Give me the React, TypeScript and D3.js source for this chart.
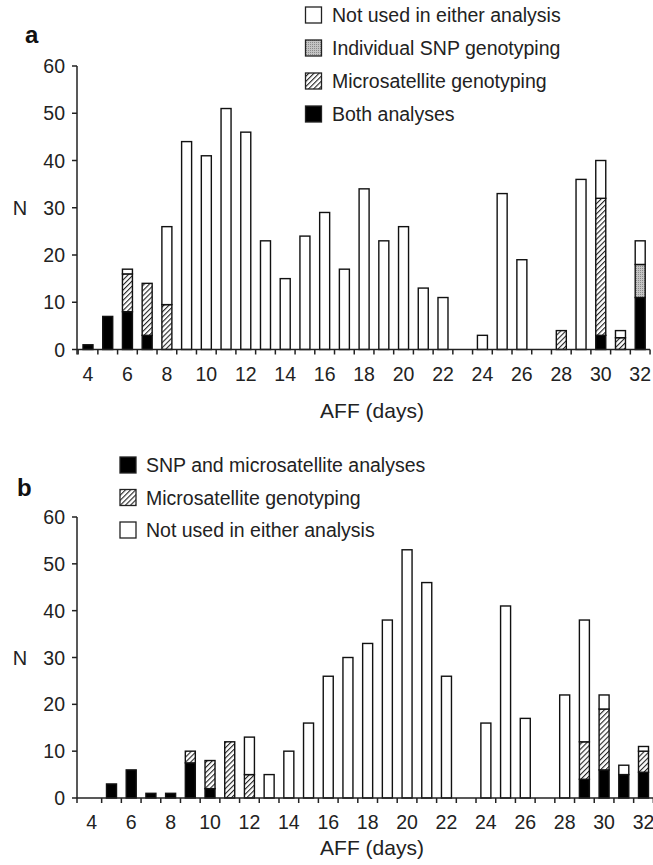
import React from "react";
import * as d3 from "d3";

const days = d3.range(4, 33);
const evenDays = [4, 6, 8, 10, 12, 14, 16, 18, 20, 22, 24, 26, 28, 30, 32];
const yTicks = [0, 10, 20, 30, 40, 50, 60];

// Panel a (index = day - 4)
const aBoth = [1, 7, 8, 3, 0, 0, 0, 0, 0, 0, 0, 0, 0, 0, 0, 0, 0, 0, 0, 0, 0, 0, 0, 0, 0, 0, 3, 0, 11];
const aSnp = [0, 0, 0, 0, 0, 0, 0, 0, 0, 0, 0, 0, 0, 0, 0, 0, 0, 0, 0, 0, 0, 0, 0, 0, 0, 0, 0, 0, 7];
const aMicro = [0, 0, 8, 11, 9.5, 0, 0, 0, 0, 0, 0, 0, 0, 0, 0, 0, 0, 0, 0, 0, 0, 0, 0, 0, 4, 0, 29, 2.5, 0];
const aNot = [0, 0, 1, 0, 16.5, 44, 41, 51, 46, 23, 15, 24, 29, 17, 34, 23, 26, 13, 11, 0, 3, 33, 19, 0, 0, 36, 8, 1.5, 5];

// Panel b
const bBoth = [0, 3, 6, 1, 1, 7.5, 2, 0, 0, 0, 0, 0, 0, 0, 0, 0, 0, 0, 0, 0, 0, 0, 0, 0, 0, 4, 6, 5, 5.5];
const bMicro = [0, 0, 0, 0, 0, 2.5, 6, 12, 5, 0, 0, 0, 0, 0, 0, 0, 0, 0, 0, 0, 0, 0, 0, 0, 0, 8, 13, 0, 4.5];
const bNot = [0, 0, 0, 0, 0, 0, 0, 0, 8, 5, 10, 16, 26, 30, 33, 38, 53, 46, 26, 0, 16, 41, 17, 0, 22, 26, 3, 2, 1];

const legendA = ["Not used in either analysis", "Individual SNP genotyping", "Microsatellite genotyping", "Both analyses"];
const legendAFill = ["#fff", "url(#stip)", "url(#hatch)", "#000"];
const legendB = ["SNP and microsatellite analyses", "Microsatellite genotyping", "Not used in either analysis"];
const legendBFill = ["#000", "url(#hatch)", "#fff"];

const FONT = "'Liberation Sans', Arial, Helvetica, sans-serif";

type Layer = { values: number[]; fill: string };

function Panel(props: {
  layers: Layer[];
  x0: number; x1: number; y0: number; y1: number;
  axisStart: number; axisEnd: number; firstTick: number;
  letter: string; letterX: number; letterY: number; affY: number;
}) {
  const { layers, x0, x1, y0, y1, axisStart, axisEnd, firstTick } = props;
  const x = d3.scaleLinear().domain([4, 32]).range([x0, x1]);
  const y = d3.scaleLinear().domain([0, 60]).range([y0, y1]);
  const bw = 10;
  const stackData = days.map((d, i) => {
    const o: any = { day: d };
    layers.forEach((l, k) => (o["k" + k] = l.values[i]));
    return o;
  });
  const keys = layers.map((_, k) => "k" + k);
  const series = d3.stack().keys(keys)(stackData as any);
  const boundaries = d3.range(firstTick, 33.5, 1);
  return (
    <g fontFamily={FONT}>
      {series.map((s, k) => (
        <g key={k}>
          {s.map((p, i) =>
            p[1] - p[0] > 0 ? (
              <rect
                key={i}
                x={x(days[i]) - bw / 2}
                width={bw}
                y={y(p[1])}
                height={y(p[0]) - y(p[1])}
                fill={layers[k].fill}
                stroke="#111"
                strokeWidth={1.4}
              />
            ) : null
          )}
        </g>
      ))}
      {/* y axis */}
      <line x1={axisStart} x2={axisStart} y1={y(60)} y2={y(0)} stroke="#222" strokeWidth={1.5} />
      {yTicks.map((t) => (
        <g key={t}>
          <line x1={axisStart - 5} x2={axisStart} y1={y(t)} y2={y(t)} stroke="#222" strokeWidth={1.5} />
          <text x={axisStart - 12} y={y(t)} dy="0.36em" textAnchor="end" fontSize={19.5} fill="#222">
            {t}
          </text>
        </g>
      ))}
      {/* x axis */}
      <line x1={axisStart} x2={axisEnd} y1={y(0)} y2={y(0)} stroke="#222" strokeWidth={1.5} />
      <line x1={axisStart} x2={axisStart} y1={y(0)} y2={y(0) + 5} stroke="#222" strokeWidth={1.5} />
      {boundaries.map((b) => (
        <line key={b} x1={x(b)} x2={x(b)} y1={y(0)} y2={y(0) + 5} stroke="#222" strokeWidth={1.5} />
      ))}
      {evenDays.map((d) => (
        <text key={d} x={x(d)} y={y(0) + 24} dy="0.36em" textAnchor="middle" fontSize={19.5} fill="#222">
          {d}
        </text>
      ))}
      <text x={20} y={y(30)} dy="0.36em" textAnchor="middle" fontSize={20} fill="#222">N</text>
      <text x={372} y={props.affY} dy="0.36em" textAnchor="middle" fontSize={21} fill="#222">AFF (days)</text>
      <text x={props.letterX} y={props.letterY} fontSize={24} fontWeight="bold" fill="#111">{props.letter}</text>
    </g>
  );
}

export default function App() {
  return (
    <svg width={653} height={865} style={{ position: "absolute", left: 0, top: 0, background: "#fff" }}>
      <defs>
        <pattern id="hatch" width={3.6} height={3.6} patternUnits="userSpaceOnUse" patternTransform="rotate(45)">
          <rect width={3.6} height={3.6} fill="#fff" />
          <line x1={0} y1={0} x2={0} y2={3.6} stroke="#222" strokeWidth={2.2} />
        </pattern>
        <pattern id="stip" width={2} height={2} patternUnits="userSpaceOnUse">
          <rect width={2} height={2} fill="#c4c4c4" />
          <rect width={1} height={1} fill="#8a8a8a" />
        </pattern>
      </defs>
      <Panel
        layers={[
          { values: aBoth, fill: "#000" },
          { values: aSnp, fill: "url(#stip)" },
          { values: aMicro, fill: "url(#hatch)" },
          { values: aNot, fill: "#fff" },
        ]}
        x0={88} x1={640.2} y0={349.5} y1={66}
        axisStart={77} axisEnd={650} firstTick={3.5}
        letter="a" letterX={25} letterY={43} affY={410}
      />
      <Panel
        layers={[
          { values: bBoth, fill: "#000" },
          { values: bMicro, fill: "url(#hatch)" },
          { values: bNot, fill: "#fff" },
        ]}
        x0={91.8} x1={643.5} y0={798} y1={517}
        axisStart={77} axisEnd={653} firstTick={4.5}
        letter="b" letterX={17} letterY={496} affY={847}
      />
      <g fontFamily={FONT} fontSize={19.5} fill="#222">
        {legendA.map((t, i) => (
          <g key={t} transform={`translate(0, ${15 + i * 33})`}>
            <rect x={305.5} y={-8} width={16} height={16} fill={legendAFill[i]} stroke="#222" strokeWidth={1.3} />
            <text x={332} y={0} dy="0.36em">{t}</text>
          </g>
        ))}
        {legendB.map((t, i) => (
          <g key={t} transform={`translate(0, ${465 + i * 32.5})`}>
            <rect x={120} y={-8} width={16} height={16} fill={legendBFill[i]} stroke="#222" strokeWidth={1.3} />
            <text x={146} y={0} dy="0.36em">{t}</text>
          </g>
        ))}
      </g>
    </svg>
  );
}
